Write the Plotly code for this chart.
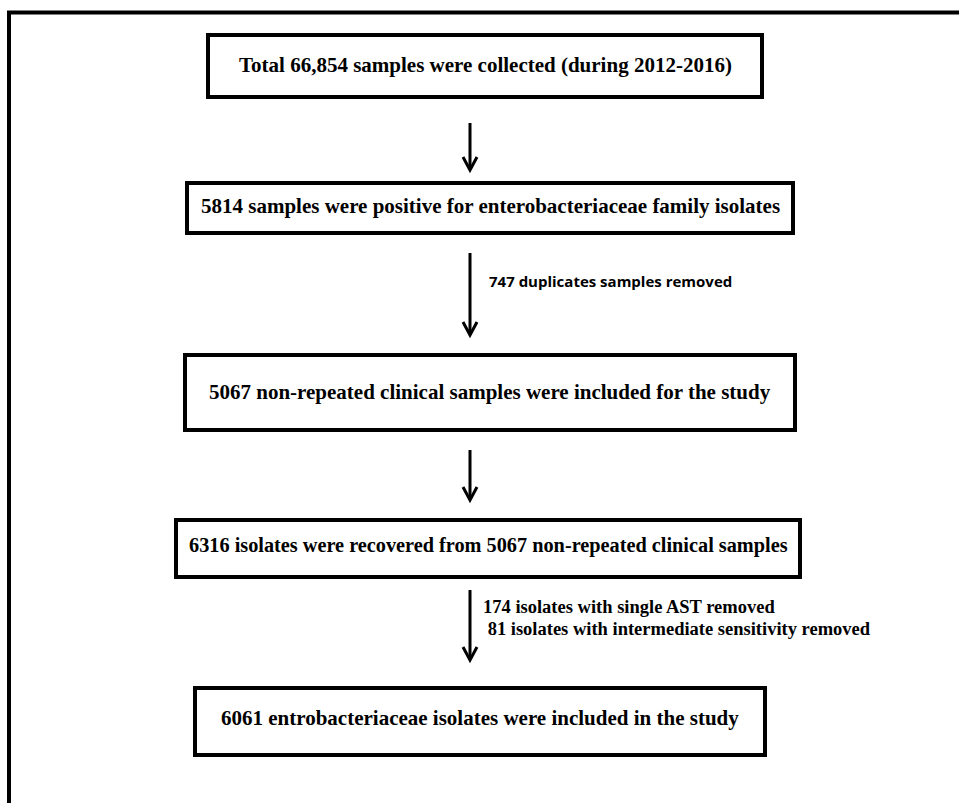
import plotly.graph_objects as go

# ---- content ----
box_texts = [
    "Total 66,854 samples were collected (during 2012-2016)",
    "5814 samples were positive for enterobacteriaceae family isolates",
    "5067 non-repeated clinical samples were included for the study",
    "6316 isolates were recovered from 5067 non-repeated clinical samples",
    "6061 entrobacteriaceae isolates were included in the study",
]
side_notes = [
    "747 duplicates samples removed",
    "174 isolates with single AST removed",
    " 81 isolates with intermediate sensitivity removed",
]

# ---- layout geometry (page pixels, y downwards) ----
W, H = 959, 803
boxes = [  # x0, x1, y0, y1, text_y, font size
    (208, 762, 35, 97, 65, 21),
    (187, 793, 183, 233, 206, 21),
    (185, 795, 355, 430, 392, 21),
    (176, 800, 520, 577, 545, 20.3),
    (195, 765, 688, 755, 718, 21),
]
arrows = [  # x, y_start, y_tip
    (470, 123, 170),
    (470, 253, 335),
    (470, 450, 500),
    (470, 590, 660),
]
notes_pos = [(487, 281, "sans"), (481, 607, "serif"), (481, 629, "serif")]

SERIF = "Liberation Serif"
SANS = "Open Sans"

fig = go.Figure()
shapes = []
annotations = []

# outer frame (top and left visible)
shapes.append(dict(type="path", xref="x", yref="y",
                   path=f"M 9 {H+20} L 9 12.5 L {W+20} 12.5",
                   line=dict(color="black", width=4)))

for (x0, x1, y0, y1, ty, fs), txt in zip(boxes, box_texts):
    shapes.append(dict(type="rect", xref="x", yref="y", x0=x0, x1=x1, y0=y0, y1=y1,
                       line=dict(color="black", width=4), fillcolor="white"))
    annotations.append(dict(x=(x0 + x1) / 2, y=ty, xref="x", yref="y", text=f"<b>{txt}</b>",
                            showarrow=False, xanchor="center", yanchor="middle",
                            font=dict(family=SERIF, size=fs, color="black")))

for x, ys, yt in arrows:
    shapes.append(dict(type="line", xref="x", yref="y", x0=x, x1=x, y0=ys, y1=yt - 1,
                       line=dict(color="black", width=3)))
    shapes.append(dict(type="path", xref="x", yref="y",
                       path=f"M {x-7} {yt-13} L {x} {yt} L {x+7} {yt-13}",
                       line=dict(color="black", width=3)))

for (nx, ny, fam), txt in zip(notes_pos, side_notes):
    if fam == "sans":
        font = dict(family=SANS, size=15, color="black")
    else:
        font = dict(family=SERIF, size=18.5, color="black")
    annotations.append(dict(x=nx, y=ny, xref="x", yref="y", text=f"<b>{txt}</b>",
                            showarrow=False, xanchor="left", yanchor="middle", font=font))

fig.update_layout(
    width=W, height=H,
    margin=dict(l=0, r=0, t=0, b=0),
    paper_bgcolor="white", plot_bgcolor="white",
    xaxis=dict(range=[0, W], visible=False, fixedrange=True),
    yaxis=dict(range=[H, 0], visible=False, fixedrange=True),
    shapes=shapes, annotations=annotations, showlegend=False,
)
fig.write_html(
    "out.html",
    config={"displayModeBar": False},
    post_script="document.body.style.margin='0';document.body.style.overflow='hidden';",
)
